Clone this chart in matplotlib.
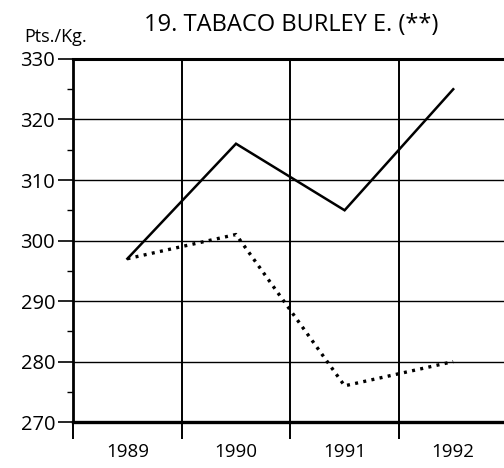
import matplotlib
matplotlib.use("Agg")
import matplotlib.pyplot as plt
import numpy as np

# data
years = ["1989", "1990", "1991", "1992"]
solid_vals = [297, 316, 305, 325]
dotted_vals = [297, 301, 276, 280]
y_ticks = [270, 280, 290, 300, 310, 320, 330]

plt.rcParams['font.family'] = ['Open Sans', 'DejaVu Sans']

fig = plt.figure(figsize=(5.04, 4.68), dpi=100)
ax = fig.add_axes([0.145, 0.098, 0.862, 0.776])

x = np.arange(len(years)) + 0.5
ax.plot(x, solid_vals, color="black", lw=1.8, solid_joinstyle="miter", zorder=3)
ax.plot(x, dotted_vals, color="black", lw=2.4, linestyle=(0, (0.9, 1.6)), zorder=3)

ax.set_xlim(0, len(years))
ax.set_ylim(270, 330)

# horizontal grid
for v in y_ticks[1:-1]:
    ax.axhline(v, color="black", lw=1.0, zorder=1)
# vertical separators between years
for b in range(1, len(years)):
    ax.axvline(b, color="black", lw=1.4, zorder=1)

ax.set_yticks(y_ticks)
ax.set_yticks(np.arange(275, 330, 10), minor=True)
ax.tick_params(axis="y", which="major", length=11, width=1.2, labelsize=14.5, pad=2)
ax.tick_params(axis="y", which="minor", length=4, width=1.0)

ax.set_xticks(range(0, len(years)))
ax.set_xticklabels([])
ax.set_xticks(x, minor=True)
ax.set_xticklabels(years, minor=True)
ax.tick_params(axis="x", which="major", length=12, width=1.4, direction="out")
ax.tick_params(axis="x", which="minor", length=0, labelsize=13.5, pad=15)

ax.spines["right"].set_visible(False)
ax.spines["top"].set_linewidth(2.2)
ax.spines["bottom"].set_linewidth(2.4)
ax.spines["left"].set_linewidth(2.0)

fig.text(0.577, 0.946, "19. TABACO BURLEY E. (**)", ha="center", va="center", fontsize=17)
fig.text(0.048, 0.922, "Pts./Kg.", ha="left", va="center", fontsize=13)

fig.savefig("out.png", dpi=100)
